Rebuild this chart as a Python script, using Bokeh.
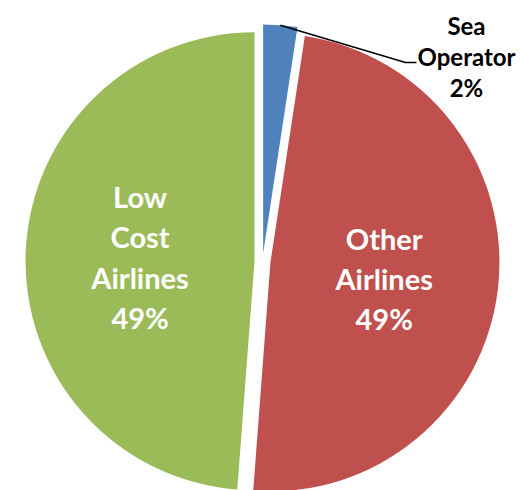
import math
from bokeh.plotting import figure
from bokeh.models import Range1d
from bokeh.core.properties import value
from bokeh.embed import file_html
from bokeh.resources import INLINE

categories = ["Sea\nOperator", "Other\nAirlines", "Low\nCost\nAirlines"]
shares = [2.4, 48.8, 48.8]
pct_labels = ["2%", "49%", "49%"]
colors = ["#4F81BD", "#C0504D", "#9BBB59"]

W, H = 530, 490
CX, CY = 262, 229   # pie centre (data units = pixels, y up)
R = 229
EXPLODE = 8

p = figure(width=W, height=H, output_backend="svg", toolbar_location=None,
           x_range=Range1d(0, W), y_range=Range1d(0, H), min_border=0)
p.axis.visible = False
p.grid.visible = False
p.outline_line_color = None
p.background_fill_color = "white"
p.border_fill_color = "white"

total = sum(shares)
start = 0.0  # clockwise degrees from 12 o'clock
centres = []
for cat, s, col in zip(categories, shares, colors):
    span = 360.0 * s / total
    end = start + span
    mid = math.radians(start + span / 2)
    ox = CX + EXPLODE * math.sin(mid)
    oy = CY + EXPLODE * math.cos(mid)
    p.wedge(x=[ox], y=[oy], radius=R,
            start_angle=[math.radians(90 - end)], end_angle=[math.radians(90 - start)],
            fill_color=col, line_color=None)
    centres.append((ox, oy, mid))
    start = end

font = value("Lato")
# inner labels
for i in (1, 2):
    ox, oy, mid = centres[i]
    lx = ox + 0.5 * R * math.sin(mid)
    ly = oy + 0.5 * R * math.cos(mid) - (3 if i == 1 else 0)
    p.text(x=[lx], y=[ly], text=[categories[i] + "\n" + pct_labels[i]],
           text_font=font, text_font_style="bold", text_font_size="29px",
           text_color="white", text_align="center", text_baseline="middle",
           text_line_height=1.15)

# outside label with leader line
ox, oy, mid = centres[0]
sx = ox + R * math.sin(mid)
sy = oy + R * math.cos(mid)
lab_x, lab_y = 466, H - 56
p.line(x=[sx, 405, 416], y=[sy, H - 62, H - 62], line_color="black", line_width=1.5)
p.text(x=[lab_x], y=[lab_y], text=[categories[0] + "\n" + pct_labels[0]],
       text_font=font, text_font_style="bold", text_font_size="24px",
       text_color="black", text_align="center", text_baseline="middle",
       text_line_height=1.06)

open("out.html", "w").write(file_html(p, INLINE))
